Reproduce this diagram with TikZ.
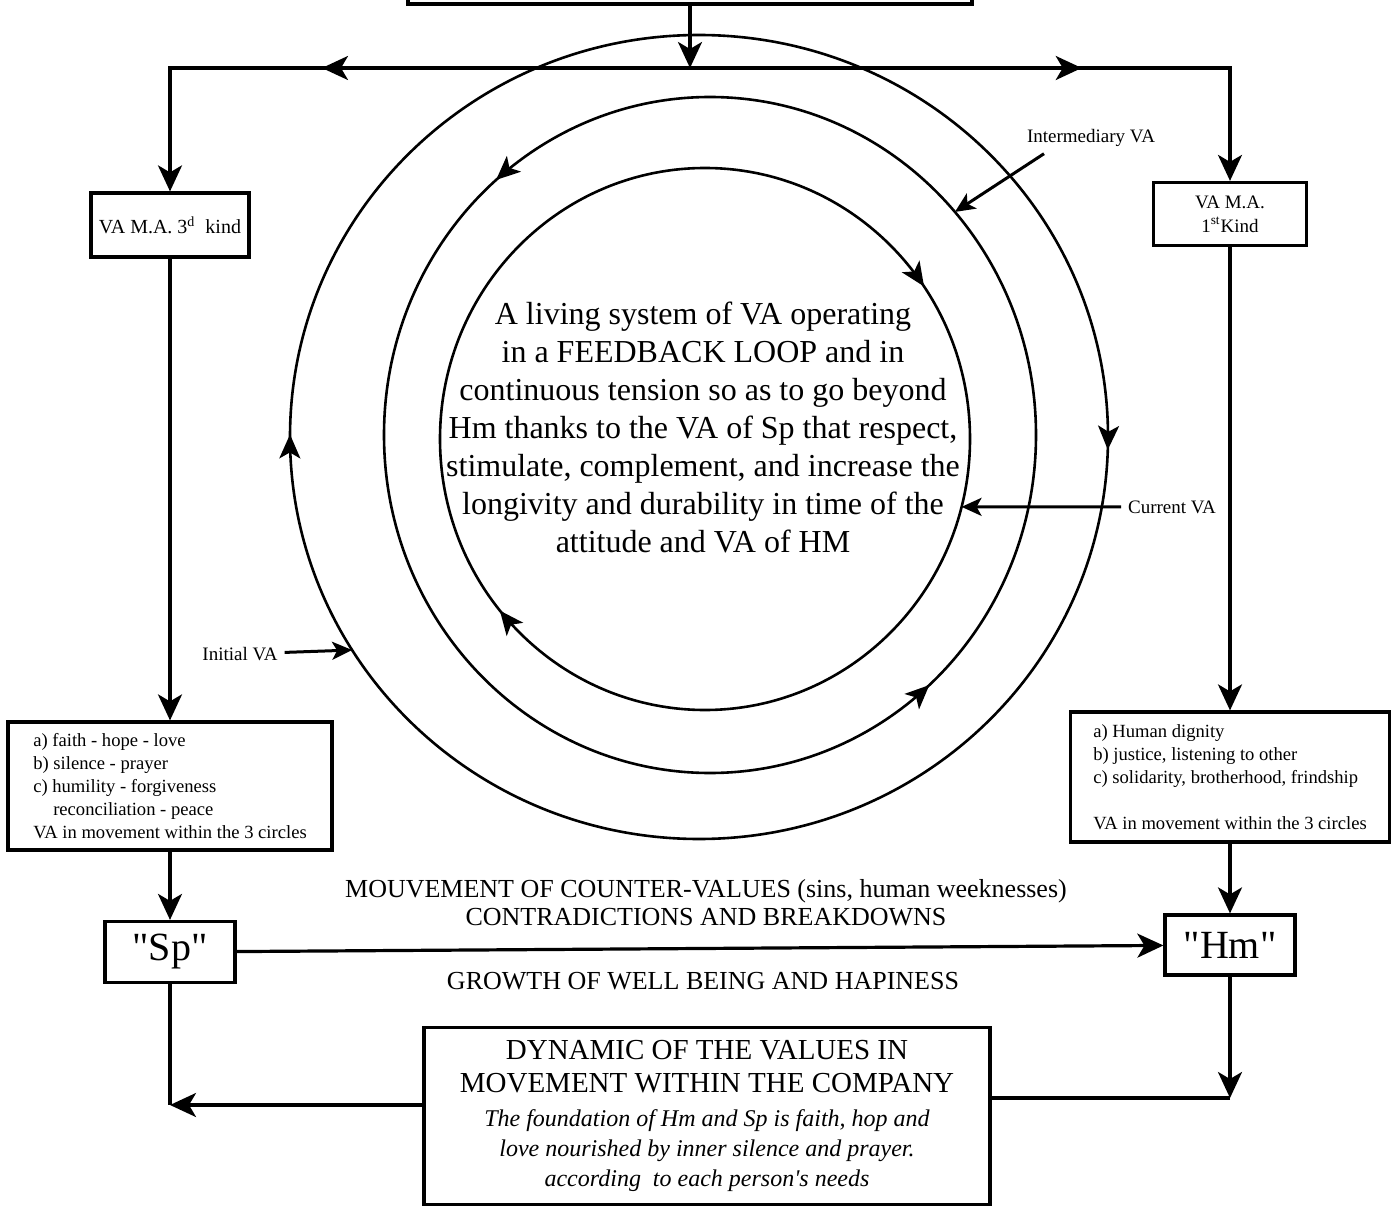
\documentclass[tikz,border=0pt]{standalone}
\usepackage{fontspec}
\setmainfont{Liberation Serif}
\usetikzlibrary{arrows.meta,calc,decorations.markings}
\newcommand{\dynhead}{\fontsize{14.5}{16.5}\selectfont}
\newcommand{\dynital}{\fontsize{12}{14.75}\selectfont\itshape}
\tikzset{
  box/.style ={draw,line width=1.6pt,inner sep=0pt,align=center},
  lst/.style ={draw,line width=1.6pt,inner sep=0pt,align=left,font=\fontsize{9.3}{11.5}\selectfont},
  lbl/.style ={font=\fontsize{9.5}{11}\selectfont},
  ln/.style  ={line width=1.6pt},
  ar/.style  ={line width=1.6pt,-{Stealth[length=13pt,width=12pt,inset=3.5pt]}},
  pt/.style  ={line width=1.5pt,-{Stealth[length=10pt,width=9pt,inset=2.5pt]}},
  mid/.style ={postaction={decorate},decoration={markings,
      mark=at position #1 with {\arrow{Stealth[length=13pt,width=12pt,inset=3.5pt]}}}},
  ring/.style={line width=1.3pt,postaction={decorate}},
  tp/.tip={Stealth[length=12pt,width=10.5pt,inset=3pt]},
}

\begin{document}
\begin{tikzpicture}[x=0.5pt,y=-0.5pt]
  \useasboundingbox (0,0) rectangle (1393,1209);
  \clip (0,0) rectangle (1393,1209);
  % the three loops
  \coordinate (oc) at (699,437);
  \coordinate (mc) at (710,435);
  \coordinate (ic) at (705,439);
  \draw[ring,decoration={markings,
      mark=at position 0.005 with {\arrow{tp}},
      mark=at position 0.501 with {\arrow{tp}}}] (oc) ellipse [x radius=409,y radius=402];
  \draw[ring,decoration={markings,
      mark=at position 0.134 with {\arrowreversed{tp}},
      mark=at position 0.6375 with {\arrowreversed{tp}}}] (mc) ellipse [x radius=326,y radius=338];
  \draw[ring,decoration={markings,
      mark=at position 0.39 with {\arrow{tp}},
      mark=at position 0.904 with {\arrow{tp}}}] (ic) ellipse [x radius=265,y radius=271];
  \node[font=\fontsize{16}{19}\selectfont,align=center] (sys) at (703,427)
    {A living system of VA operating\\ in a FEEDBACK LOOP and in\\ continuous tension so as to go beyond\\
     Hm thanks to the VA of Sp that respect,\\ stimulate, complement, and increase the\\
     longivity and durability in time of the\\ attitude and VA of HM};
  % labels pointing at the loops
  \node[lbl] (ini) at (240,654) {Initial VA};
  \node[lbl] (cur) at (1172,507) {Current VA};
  \node[lbl] (imd) at (1091,138) {Intermediary VA};
  \coordinate (inip) at ($(oc)+(148:409 and 402)$);
  \coordinate (curp) at ($(ic)+(14.5:265 and 271)$);
  \coordinate (imdp) at ($(mc)+(-41.3:326 and 338)$);
  \draw[pt] (ini) -- (inip);
  \draw[pt] (cur) -- (curp);
  \draw[pt] ([xshift=12pt]imd.south west) -- (imdp);
  % top branch
  \node[box,minimum width=282pt,minimum height=40pt] (tb) at (690,-36) {};
  \coordinate (j) at (690,68);
  \node[box,minimum width=79pt,minimum height=32pt,font=\fontsize{10}{12}\selectfont] (va3) at (170,225)
    {VA M.A. 3\textsuperscript{d}\ \ kind};
  \node[box,minimum width=76.5pt,minimum height=31.5pt,font=\fontsize{9.5}{12}\selectfont] (va1) at (1230,214)
    {VA M.A.\\1\textsuperscript{st}Kind};
  \draw[ar] (tb) -- (j);
  \draw[ar,mid=0.572] (j) -| (va3);
  \draw[ar,mid=0.60] (j) -| (va1);
  % value lists
  \node[lst,minimum width=162pt,minimum height=64pt] (vl3) at (170,786)
    {a) faith - hope - love\\ b) silence - prayer\\ c) humility - forgiveness\\
     \hspace*{10pt}reconciliation - peace\\ VA in movement within the 3 circles};
  \node[lst,minimum width=159.5pt,minimum height=65pt] (vl1) at (1230,777)
    {a) Human dignity\\ b) justice, listening to other\\ c) solidarity, brotherhood, frindship\\[11.5pt]
     VA in movement within the 3 circles};
  \draw[ar] (va3) -- (vl3);
  \draw[ar] (va1) -- (vl1);
  % Sp and Hm
  \node[box,minimum width=65pt,minimum height=30.5pt,font=\fontsize{20}{22}\selectfont] (sp) at (170,952)
    {\textquotedbl Sp\textquotedbl};
  \node[box,minimum width=65pt,minimum height=30pt,font=\fontsize{20}{22}\selectfont] (hm) at (1230,945)
    {\textquotedbl Hm\textquotedbl};
  \draw[ar] (vl3) -- (sp);
  \draw[ar] (vl1) -- (hm);
  \draw[ar] (sp) -- (hm);
  \node[font=\fontsize{13}{14}\selectfont,align=center] (cv) at (706,903)
    {MOUVEMENT OF COUNTER-VALUES (sins, human weeknesses)\\ CONTRADICTIONS AND BREAKDOWNS};
  \node[font=\fontsize{13}{14}\selectfont] (gw) at (703,981) {GROWTH OF WELL BEING AND HAPINESS};
  % bottom box
  \node[box,minimum width=283pt,minimum height=88.5pt,font=\fontsize{12}{14.75}\selectfont] (dyn) at (707,1116)
    {\dynhead DYNAMIC OF THE VALUES IN\\[1.75pt] \dynhead MOVEMENT WITHIN THE COMPANY\\[2.25pt]
     \dynital The foundation of Hm and Sp is faith, hop and\\ \dynital love nourished by inner silence and prayer.\\[0.25pt]
     \dynital according\ \ to each person\textquotesingle s needs};
  \coordinate (cl) at (170,1105);
  \coordinate (cr) at (1230,1098);
  \draw[ln] (sp) -- (cl);
  \draw[ar] (dyn.west |- cl) -- (cl);
  \draw[ar] (hm) -- (cr);
  \draw[ln] (cr) -- (dyn.east |- cr);
\end{tikzpicture}
\end{document}
